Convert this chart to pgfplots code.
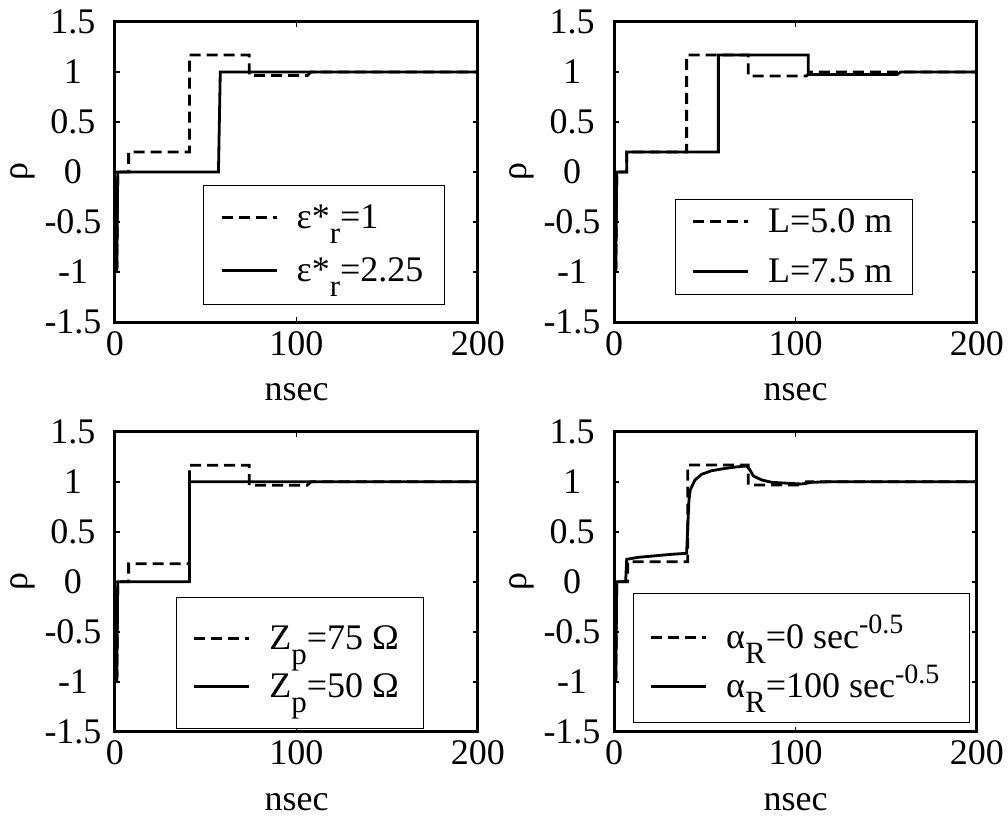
\documentclass[border=0pt]{standalone}
\usepackage{fontspec}
\setmainfont{Liberation Serif}
\usepackage{pgfplots}
\pgfplotsset{compat=1.18}

\newcommand{\lbl}{\fontsize{18}{21}\selectfont}
\newcommand{\sub}[1]{\raisebox{-0.42em}{\fontsize{15.5}{15.5}\selectfont #1}}
\newcommand{\supr}[1]{\raisebox{0.4em}{\fontsize{14}{14}\selectfont #1}}

\pgfplotsset{
  tdr/.style={
    scale only axis, width=181.5pt, height=150pt, anchor=south west,
    xmin=0, xmax=200, ymin=-1.5, ymax=1.5,
    xtick={0,100,200}, xticklabels={0,100,200},
    ytick={-1.5,-1,-0.5,0,0.5,1,1.5},
    yticklabels={-1.5,-1,-0.5,0,0.5,1,1.5},
    tick align=inside, major tick length=2.5pt,
    axis line style={line width=1.5pt},
    every tick/.style={black, line width=0.8pt},
    tick label style={font=\lbl},
    xticklabel style={yshift=-1pt},
    yticklabel style={anchor=center, xshift=-21pt},
    label style={font=\lbl},
    xlabel={nsec}, ylabel={ρ},
    xlabel style={at={(axis description cs:0.5,-0.234)}, anchor=center},
    ylabel style={at={(axis description cs:-0.255,0.5)}, anchor=center, inner sep=0pt},
    legend style={font=\lbl, draw=black, line width=0.5pt, anchor=center,
      inner xsep=0pt, column sep=0pt,
      nodes={inner sep=0pt}, cells={anchor=base west}},
    legend image code/.code={\draw[draw=none] (0pt,0pt) -- (46.5pt,0pt);
      \draw[#1] (9pt,5.5pt) -- (36.5pt,5.5pt);},
  },
  dsh/.style={black, line width=1.4pt, dash pattern=on 5.5pt off 3pt},
  sld/.style={black, line width=1.4pt},
}

\begin{document}
\begin{tikzpicture}
\useasboundingbox (0,0) rectangle (504pt,410.5pt);

% relative permittivity of the line
\begin{axis}[tdr, at={(57.5pt,249.5pt)},
  legend style={at={(0.576,0.258)}, inner ysep=10pt, row sep=12.8pt}]
\addplot[dsh] coordinates {(1,-1)(1.5,0)(7.5,0)(7.5,0.2)(41,0.2)(41,1.17)(74,1.17)(74,0.965)(106,0.965)(108,1)(200,1)};
\addplot[sld] coordinates {(1,-1)(1.5,0)(57,0)(58,1)(200,1)};
\legend{ε*\sub{r}=1\kern10.5pt, ε*\sub{r}=2.25\kern10.5pt}
\end{axis}

% cable length
\begin{axis}[tdr, at={(307pt,249.5pt)},
  legend style={at={(0.495,0.249)}, inner ysep=4.5pt, row sep=11.8pt}]
\addplot[dsh] coordinates {(1,-1)(1.5,0)(7,0)(7,0.2)(40,0.2)(40,1.17)(74,1.17)(74,0.96)(106,0.96)(108,1)(200,1)};
\addplot[sld] coordinates {(1,-1)(1.5,0)(7,0)(7,0.2)(57.5,0.2)(57.5,1.17)(107,1.17)(107,0.975)(156,0.975)(158,1)(200,1)};
\legend{L=5.0 m\kern10pt, L=7.5 m\kern10pt}
\end{axis}

% probe impedance
\begin{axis}[tdr, at={(57.5pt,44.65pt)},
  legend style={at={(0.51,0.229)}, inner ysep=14pt, row sep=10.3pt}]
\addplot[dsh] coordinates {(1,-1)(1.5,0)(7.5,0)(7.5,0.18)(41,0.18)(41,1.165)(74,1.165)(74,0.965)(106,0.965)(108,1)(200,1)};
\addplot[sld] coordinates {(1,-1)(1.5,0)(41,0)(41,1)(200,1)};
\legend{Z\sub{p}=75 Ω\kern12.5pt, Z\sub{p}=50 Ω\kern12.5pt}
\end{axis}

% conductor loss
\begin{axis}[tdr, at={(307pt,44.65pt)},
  legend style={at={(0.516,0.246)}, inner ysep=11pt, row sep=6.7pt}]
\addplot[dsh] coordinates {(1,-1)(1.5,0)(7.5,0)(7.5,0.2)(40.6,0.2)(40.6,1.167)(74,1.167)(74,0.967)(105,0.967)(106,1)(200,1)};
\addplot[sld] coordinates {(1,-1)(1.5,0)(6.4,0)(7,0.224)(13.4,0.244)(31.8,0.274)(40,0.284)(41.3,0.817)(42,0.917)(44.6,1.017)(48.3,1.074)(53.8,1.11)(61.2,1.133)(68.5,1.15)(73.1,1.157)(74.9,1.117)(76.8,1.057)(81.4,1.017)(86.9,0.994)(96,0.984)(103.4,0.977)(108.9,0.994)(119.9,1)(200,1)};
\legend{α\sub{R}=0 sec\supr{-0.5}\kern15pt, α\sub{R}=100 sec\supr{-0.5}\kern15pt}
\end{axis}
\end{tikzpicture}
\end{document}
